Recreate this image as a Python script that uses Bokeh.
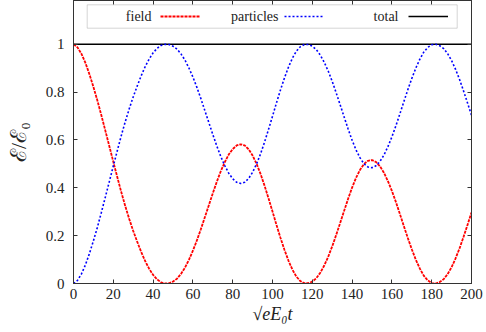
from bokeh.plotting import figure
from bokeh.models import (Range1d, FixedTicker, LinearAxis, Legend, LegendItem,
                          Label, BoxAnnotation)
from bokeh.embed import file_html
from bokeh.resources import INLINE

# ---------------- data ----------------
time = list(range(0, 201, 2))

field = [
    1.000, 0.987, 0.960, 0.922, 0.875, 0.822, 0.765, 0.703, 0.639, 0.574,
    0.509, 0.445, 0.382, 0.324, 0.270, 0.220, 0.175, 0.132, 0.094, 0.062,
    0.036, 0.017, 0.005, 0.000, 0.001, 0.008, 0.020, 0.040, 0.066, 0.099,
    0.137, 0.180, 0.227, 0.277, 0.327, 0.377, 0.425, 0.469, 0.507, 0.539,
    0.562, 0.577, 0.582, 0.577, 0.561, 0.535, 0.500, 0.458, 0.409, 0.356,
    0.301, 0.245, 0.191, 0.141, 0.096, 0.058, 0.029, 0.010, 0.001, 0.001,
    0.008, 0.022, 0.045, 0.075, 0.112, 0.155, 0.203, 0.253, 0.304, 0.354,
    0.401, 0.442, 0.475, 0.500, 0.513, 0.516, 0.508, 0.490, 0.463, 0.428,
    0.387, 0.341, 0.291, 0.240, 0.190, 0.143, 0.100, 0.063, 0.033, 0.013,
    0.002, 0.000, 0.006, 0.018, 0.039, 0.068, 0.105, 0.147, 0.195, 0.245,
    0.297,
]

particles = [
    0.000, 0.013, 0.040, 0.078, 0.125, 0.178, 0.235, 0.297, 0.361, 0.426,
    0.491, 0.555, 0.618, 0.676, 0.730, 0.780, 0.825, 0.868, 0.906, 0.938,
    0.964, 0.983, 0.995, 1.000, 0.999, 0.992, 0.980, 0.960, 0.934, 0.901,
    0.863, 0.820, 0.773, 0.723, 0.673, 0.623, 0.575, 0.531, 0.493, 0.461,
    0.438, 0.423, 0.418, 0.423, 0.439, 0.465, 0.500, 0.542, 0.591, 0.644,
    0.699, 0.755, 0.809, 0.859, 0.904, 0.942, 0.971, 0.990, 0.999, 0.999,
    0.992, 0.978, 0.955, 0.925, 0.888, 0.845, 0.797, 0.747, 0.696, 0.646,
    0.599, 0.558, 0.525, 0.500, 0.487, 0.484, 0.492, 0.510, 0.537, 0.572,
    0.613, 0.659, 0.709, 0.760, 0.810, 0.857, 0.900, 0.937, 0.967, 0.987,
    0.998, 1.000, 0.994, 0.982, 0.961, 0.932, 0.895, 0.853, 0.805, 0.755,
    0.703,
]

total_time = [0, 200]
total = [1.0, 1.0]

xticks = [0, 20, 40, 60, 80, 100, 120, 140, 160, 180, 200]
yticks = [0, 0.2, 0.4, 0.6, 0.8, 1]
ytick_labels = ["0", "0.2", "0.4", "0.6", "0.8", "1"]
series_names = ["field", "particles", "total"]
x_label = "√eE₀t"
y_label = "ℰ/ℰ₀"

# ---------------- styling ----------------
FONT = "Liberation Serif"
AX = "#333333"
TXT = "#222222"

p = figure(width=486, height=332, output_backend="svg", toolbar_location=None,
           x_range=Range1d(0, 200), y_range=Range1d(0, 1.183),
           min_border_left=73, min_border_right=15,
           min_border_top=0, min_border_bottom=49)
p.grid.visible = False
p.outline_line_color = AX
p.outline_line_width = 1
p.background_fill_color = "white"
p.border_fill_color = "white"

def style_axis(ax, ticks):
    ax.ticker = FixedTicker(ticks=ticks)
    ax.major_tick_in = 4
    ax.major_tick_out = 0
    ax.minor_tick_line_color = None
    ax.axis_line_color = AX
    ax.major_tick_line_color = AX
    ax.major_label_text_font = FONT
    ax.major_label_text_font_size = "15px"
    ax.major_label_text_color = TXT

xa = p.xaxis[0]
ya = p.yaxis[0]
style_axis(xa, xticks)
style_axis(ya, yticks)
ya.major_label_overrides = {t: s for t, s in zip(yticks, ytick_labels)}
xa.major_label_standoff = 5
ya.major_label_standoff = 9

xa.axis_label = x_label
xa.axis_label_text_font = FONT
xa.axis_label_text_font_size = "18px"
xa.axis_label_text_font_style = "italic"
xa.axis_label_text_color = TXT
xa.axis_label_standoff = 2

ya.axis_label = y_label
ya.axis_label_text_font = FONT
ya.axis_label_text_font_size = "22px"
ya.axis_label_text_font_style = "normal"
ya.axis_label_text_color = TXT
ya.axis_label_standoff = 12

# mirrored ticks on top and right
for loc, ticks in (("above", xticks), ("right", yticks)):
    ax = LinearAxis()
    style_axis(ax, ticks)
    ax.major_label_text_font_size = "0px"
    ax.major_label_text_color = None
    ax.major_label_standoff = 0
    p.add_layout(ax, loc)

# ---------------- curves ----------------
r_total = p.line(total_time, total, line_color="black", line_width=1.5)
r_field = p.line(time, field, line_color="#ff0000", line_width=1.8, line_dash="3 1")
r_part = p.line(time, particles, line_color="#0000ff", line_width=1.6, line_dash="2 2")

# ---------------- legend (gnuplot style: text then sample) ----------------
box = BoxAnnotation(left=13.7, right=383.7, bottom=255.3, top=278.7,
                    left_units="screen", right_units="screen",
                    bottom_units="screen", top_units="screen",
                    fill_alpha=0, line_color="#777777", line_width=1)
p.add_layout(box)

leg = Legend(items=[LegendItem(label="", renderers=[r]) for r in (r_field, r_part, r_total)],
             location=(87, 257), orientation="horizontal",
             glyph_width=40, glyph_height=20, label_width=0, label_standoff=0,
             spacing=84, padding=0, margin=0,
             border_line_alpha=0, background_fill_alpha=0,
             label_text_font_size="1px")
p.add_layout(leg)

for name, xr in zip(series_names, (78, 205, 325)):
    p.add_layout(Label(x=xr, y=267, x_units="screen", y_units="screen",
                       text=name, text_align="right", text_baseline="middle",
                       text_font=FONT, text_font_size="14px", text_color=TXT))

open("out.html", "w").write(file_html(p, INLINE))
